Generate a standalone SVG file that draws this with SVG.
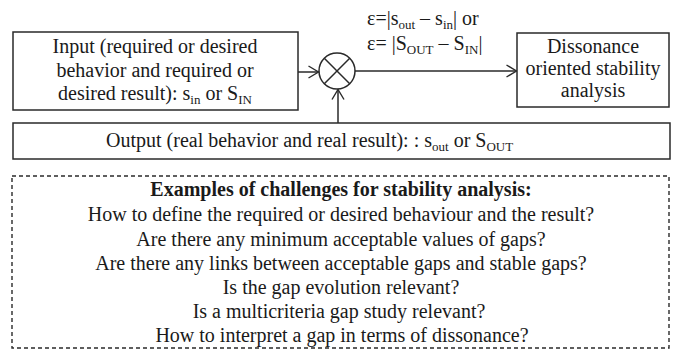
<svg xmlns="http://www.w3.org/2000/svg" width="676" height="350" viewBox="0 0 676 350" font-family="Liberation Serif, Tinos, Noto Serif, Times New Roman, serif">
<style>
text{font-size:20px;fill:#1a1a1a}
.c{text-anchor:middle}
.b{font-weight:bold}
.box{fill:#fff;stroke:#2a2a2a;stroke-width:1.5}
.dash{fill:none;stroke:#2a2a2a;stroke-width:1.4;stroke-dasharray:4 3}
.ln{fill:none;stroke:#2a2a2a;stroke-width:1.5}
.sub{font-size:13px}
</style>
<defs>
<marker id="ah" markerUnits="userSpaceOnUse" markerWidth="12" markerHeight="14" refX="11" refY="7" orient="auto">
<path d="M1,1 L11,7 L1,13" fill="none" stroke="#2a2a2a" stroke-width="1.4"/>
</marker>
</defs>
<rect width="676" height="350" fill="#fff"/>
<g id="connectors">
<line class="ln" x1="298" y1="72" x2="318.5" y2="72" marker-end="url(#ah)"/>
<line class="ln" x1="355" y1="71" x2="516.5" y2="71" marker-end="url(#ah)"/>
<line class="ln" x1="338" y1="123" x2="338" y2="89.5" marker-end="url(#ah)"/>
</g>
<g id="input">
<rect class="box" x="13" y="32" width="285" height="78"/>
<text class="c" x="155" y="53">Input (required or desired</text>
<text class="c" x="155" y="77">behavior and required or</text>
<text class="c" x="155" y="100">desired result): s<tspan class="sub" dy="4">in</tspan><tspan dy="-4"> or S</tspan><tspan class="sub" dy="4">IN</tspan></text>
</g>
<g id="comparator">
<circle class="ln" cx="337" cy="71" r="18"/>
<line class="ln" x1="324.3" y1="58.3" x2="349.7" y2="83.7"/>
<line class="ln" x1="349.7" y1="58.3" x2="324.3" y2="83.7"/>
</g>
<g id="error-label">
<text x="367" y="25">ε=|s<tspan class="sub" dy="4">out</tspan><tspan dy="-4"> – s</tspan><tspan class="sub" dy="4">in</tspan><tspan dy="-4">| or</tspan></text>
<text x="367" y="50">ε= |S<tspan class="sub" dy="4">OUT</tspan><tspan dy="-4"> – S</tspan><tspan class="sub" dy="4">IN</tspan><tspan dy="-4">|</tspan></text>
</g>
<g id="dissonance">
<rect class="box" x="517" y="33" width="152" height="74"/>
<text class="c" x="593" y="53">Dissonance</text>
<text class="c" x="593" y="75">oriented stability</text>
<text class="c" x="593" y="97">analysis</text>
</g>
<g id="output">
<rect class="box" x="13" y="123" width="657" height="36"/>
<text x="106" y="147">Output (real behavior and real result): : s<tspan class="sub" dy="4">out</tspan><tspan dy="-4"> or S</tspan><tspan class="sub" dy="4">OUT</tspan></text>
</g>
<g id="challenges">
<rect class="dash" x="12" y="176" width="657" height="172"/>
<text class="c b" x="341" y="196">Examples of challenges for stability analysis:</text>
<text class="c" x="341" y="221">How to define the required or desired behaviour and the result?</text>
<text class="c" x="341" y="246">Are there any minimum acceptable values of gaps?</text>
<text class="c" x="341" y="270">Are there any links between acceptable gaps and stable gaps?</text>
<text class="c" x="341" y="294">Is the gap evolution relevant?</text>
<text class="c" x="339" y="318">Is a multicriteria gap study relevant?</text>
<text class="c" x="342" y="342">How to interpret a gap in terms of dissonance?</text>
</g>
</svg>
